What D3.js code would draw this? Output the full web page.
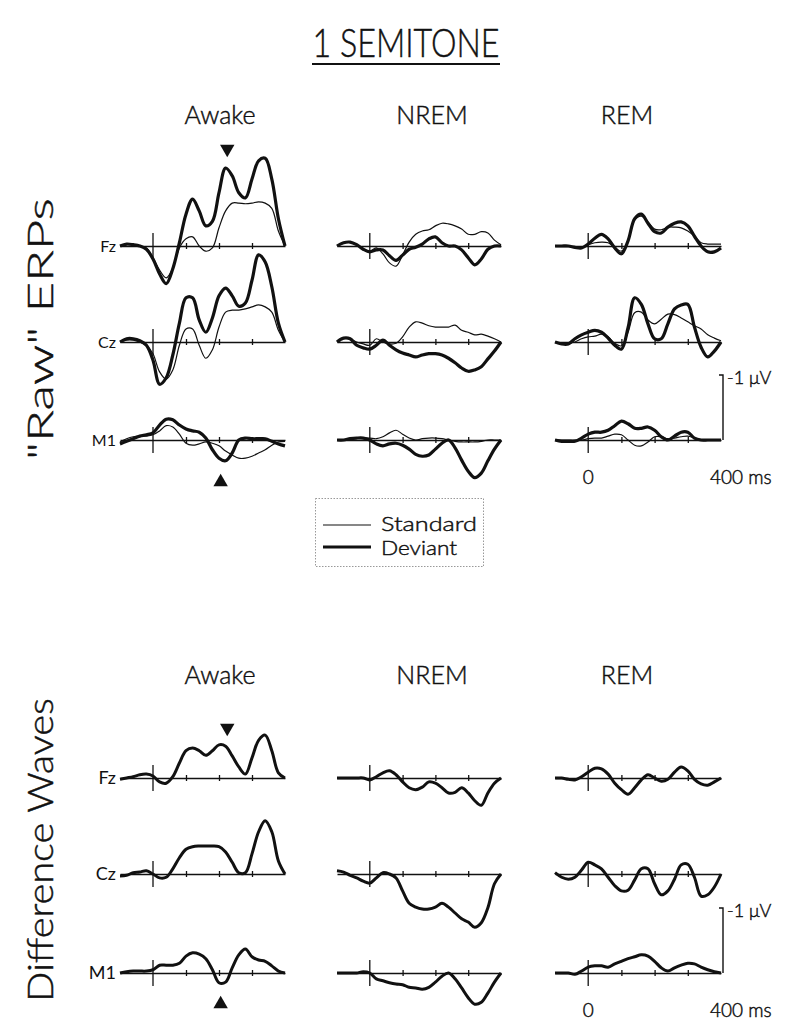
<!DOCTYPE html>
<html>
<head>
<meta charset="utf-8">
<script src="https://cdn.jsdelivr.net/npm/d3@7"></script>
<style>
  body { margin: 0; background: #fff; }
  svg { display: block; }
  text { font-family: Lato, "Open Sans", "DejaVu Sans", sans-serif; font-weight: 300; fill: #111; }
  text.book { stroke: #111; stroke-width: 0.45px; }
  text.site { font-weight: 400; }
</style>
</head>
<body>
<svg id="chart" width="789" height="1027"></svg>
<script>
// time axis (ms), one sample every 20 ms
const times = [-100, -80, -60, -40, -20, 0, 20, 40, 60, 80, 100, 120, 140, 160, 180,
  200, 220, 240, 260, 280, 300, 320, 340, 360, 380, 400];
const conditions = ['Awake', 'NREM', 'REM'];
const sites = ['Fz', 'Cz', 'M1'];
const xTicks = [100, 200, 300];

// "raw" ERPs, microvolts (negative is plotted up)
const awakeFzStd = [0, -0.02, -0.02, 0, 0.03, 0.18, 0.37, 0.49, 0.34, 0.03, -0.11, -0.14, 0, 0.08, 0.03, -0.28, -0.54, -0.66, -0.66, -0.65, -0.66, -0.68, -0.66, -0.58, -0.23, 0];
const awakeFzDev = [0, -0.03, -0.02, 0, 0.05, 0.2, 0.43, 0.58, 0.35, -0.05, -0.49, -0.72, -0.54, -0.31, -0.38, -0.82, -1.2, -1.08, -0.82, -0.74, -1.03, -1.31, -1.35, -1.03, -0.42, 0];
const awakeCzStd = [0, -0.03, -0.03, 0, 0.05, 0.18, 0.46, 0.57, 0.43, 0.05, -0.2, -0.2, 0.05, 0.25, 0.12, -0.23, -0.46, -0.49, -0.49, -0.51, -0.54, -0.57, -0.54, -0.46, -0.18, 0];
const awakeCzDev = [0, -0.05, -0.05, -0.02, 0.05, 0.28, 0.65, 0.55, 0.2, -0.29, -0.68, -0.68, -0.34, -0.15, -0.37, -0.71, -0.83, -0.71, -0.55, -0.6, -0.95, -1.34, -1.23, -0.85, -0.29, 0];
const awakeM1Std = [0.03, -0.02, -0.05, -0.06, -0.06, -0.08, -0.14, -0.22, -0.2, -0.09, 0.05, 0.08, 0.06, 0.03, 0.05, 0.09, 0.17, 0.23, 0.28, 0.28, 0.25, 0.2, 0.15, 0.08, 0.03, 0.02];
const awakeM1Dev = [0.06, 0.02, -0.02, -0.06, -0.08, -0.11, -0.23, -0.32, -0.31, -0.23, -0.17, -0.14, -0.12, -0.03, 0.15, 0.28, 0.32, 0.2, 0, -0.03, -0.02, -0.02, -0.02, 0.02, 0.06, 0.09];

const nremFzStd = [0, -0.05, -0.06, -0.02, 0.05, 0.08, 0.03, 0.12, 0.26, 0.31, 0.14, -0.06, -0.18, -0.23, -0.25, -0.31, -0.35, -0.34, -0.31, -0.26, -0.18, -0.18, -0.22, -0.2, -0.09, -0.02];
const nremFzDev = [0, -0.05, -0.06, -0.02, 0.05, 0.09, 0.06, 0.06, 0.15, 0.22, 0.14, 0.05, 0.02, -0.03, -0.11, -0.14, -0.05, 0, 0, 0.06, 0.18, 0.29, 0.2, 0.05, 0, 0];
const nremCzStd = [0, -0.06, -0.05, 0, 0.03, 0.05, -0.05, 0, 0.03, 0.02, -0.08, -0.23, -0.31, -0.29, -0.25, -0.23, -0.23, -0.23, -0.26, -0.18, -0.15, -0.11, -0.12, -0.09, -0.05, 0];
const nremCzDev = [0, -0.06, -0.05, 0.05, 0.09, 0.11, 0.05, -0.03, 0.05, 0.12, 0.17, 0.2, 0.23, 0.2, 0.18, 0.18, 0.2, 0.25, 0.32, 0.4, 0.45, 0.43, 0.38, 0.26, 0.14, 0];
const nremM1Std = [0, 0, -0.02, -0.03, -0.03, -0.03, -0.02, -0.05, -0.11, -0.15, -0.09, -0.03, 0, -0.02, -0.03, -0.03, -0.02, 0, 0.02, 0.03, 0.03, 0.03, 0.02, 0, 0, 0];
const nremM1Dev = [0, 0, -0.02, -0.03, -0.03, 0, 0.06, 0.09, 0.06, 0.05, 0.08, 0.14, 0.22, 0.25, 0.23, 0.14, 0.05, 0, 0.12, 0.31, 0.48, 0.58, 0.51, 0.32, 0.14, 0];

const remFzStd = [0, 0, 0, 0.02, 0.02, -0.02, -0.05, -0.06, -0.05, 0.02, 0.08, -0.08, -0.4, -0.46, -0.37, -0.26, -0.25, -0.29, -0.29, -0.28, -0.23, -0.15, -0.05, -0.03, -0.03, -0.03];
const remFzDev = [0, 0, 0, 0.02, 0.03, -0.03, -0.12, -0.18, -0.11, 0.03, 0.12, -0.08, -0.42, -0.49, -0.35, -0.22, -0.2, -0.29, -0.35, -0.37, -0.31, -0.15, 0, 0.09, 0.09, 0.03];
const remCzStd = [0, 0.03, 0.02, 0, -0.05, -0.08, -0.09, -0.12, -0.08, 0.02, 0.06, -0.15, -0.45, -0.46, -0.34, -0.28, -0.35, -0.43, -0.42, -0.37, -0.31, -0.25, -0.2, -0.11, -0.06, -0.02];
const remCzDev = [0, 0.03, 0.03, -0.05, -0.11, -0.15, -0.18, -0.15, -0.06, 0.05, 0.11, -0.22, -0.68, -0.58, -0.28, -0.05, -0.05, -0.28, -0.51, -0.57, -0.58, -0.23, 0.08, 0.23, 0.14, 0];
const remM1Std = [0, 0, 0, 0, 0, -0.02, -0.03, -0.03, -0.06, -0.09, -0.08, 0, 0.08, 0.09, 0.03, -0.05, -0.05, -0.02, -0.03, -0.05, -0.06, -0.03, 0, 0, 0, 0];
const remM1Dev = [0, 0.02, 0.02, 0.02, -0.03, -0.09, -0.12, -0.12, -0.15, -0.22, -0.29, -0.25, -0.18, -0.18, -0.2, -0.15, -0.05, 0, -0.06, -0.12, -0.12, -0.03, 0, 0, 0, 0];

// difference waves (deviant minus standard), microvolts
const awakeFzDiff = [0.02, 0, -0.02, -0.05, -0.06, -0.03, 0.06, 0.08, -0.02, -0.23, -0.42, -0.46, -0.42, -0.35, -0.42, -0.51, -0.49, -0.34, -0.17, -0.06, -0.31, -0.58, -0.66, -0.42, -0.08, 0];
const awakeCzDiff = [0.03, 0.02, -0.02, -0.03, -0.05, 0, 0.06, 0.05, -0.08, -0.25, -0.38, -0.42, -0.43, -0.43, -0.43, -0.42, -0.34, -0.18, -0.02, -0.02, -0.31, -0.65, -0.82, -0.65, -0.2, 0];
const awakeM1Diff = [0, -0.02, -0.03, -0.03, -0.03, -0.05, -0.12, -0.12, -0.12, -0.15, -0.26, -0.31, -0.29, -0.22, -0.05, 0.15, 0.14, -0.08, -0.28, -0.37, -0.25, -0.2, -0.18, -0.11, -0.03, 0];
const nremFzDiff = [0, 0, 0, 0, 0, 0.03, -0.02, -0.08, -0.11, -0.05, 0.06, 0.15, 0.18, 0.14, 0.06, 0.08, 0.15, 0.23, 0.22, 0.15, 0.23, 0.35, 0.42, 0.23, 0.08, 0];
const nremCzDiff = [-0.05, -0.03, 0.02, 0.06, 0.11, 0.14, 0.06, -0.02, 0, 0.06, 0.26, 0.45, 0.51, 0.54, 0.54, 0.51, 0.45, 0.51, 0.6, 0.69, 0.74, 0.82, 0.75, 0.52, 0.15, 0];
const nremM1Diff = [0, 0, 0, 0, -0.02, 0, 0.09, 0.12, 0.15, 0.17, 0.18, 0.22, 0.23, 0.25, 0.22, 0.14, 0.05, 0, 0.09, 0.23, 0.38, 0.48, 0.45, 0.31, 0.14, 0];
const remFzDiff = [0, 0, 0.02, 0.03, -0.02, -0.09, -0.15, -0.14, -0.06, 0.08, 0.18, 0.25, 0.15, 0.03, -0.05, 0, 0.05, 0.02, -0.09, -0.17, -0.11, 0.02, 0.09, 0.11, 0.06, 0];
const remCzDiff = [-0.02, 0.05, 0.08, 0.05, -0.06, -0.18, -0.14, -0.08, 0.05, 0.18, 0.26, 0.25, 0.09, -0.08, -0.08, 0.15, 0.32, 0.26, 0.08, -0.14, -0.15, 0.05, 0.34, 0.32, 0.2, 0];
const remM1Diff = [0, 0, 0, 0.02, -0.03, -0.09, -0.11, -0.11, -0.09, -0.14, -0.18, -0.22, -0.25, -0.28, -0.26, -0.18, -0.08, -0.03, -0.08, -0.12, -0.15, -0.14, -0.09, -0.05, -0.02, 0];

// latency (ms) of the arrowheads in the Awake column
const arrowFz = 225;
const arrowM1 = 205;

const rawTraces = {
  Awake: { Fz: [awakeFzStd, awakeFzDev], Cz: [awakeCzStd, awakeCzDev], M1: [awakeM1Std, awakeM1Dev] },
  NREM: { Fz: [nremFzStd, nremFzDev], Cz: [nremCzStd, nremCzDev], M1: [nremM1Std, nremM1Dev] },
  REM: { Fz: [remFzStd, remFzDev], Cz: [remCzStd, remCzDev], M1: [remM1Std, remM1Dev] },
};
const diffTraces = {
  Awake: { Fz: awakeFzDiff, Cz: awakeCzDiff, M1: awakeM1Diff },
  NREM: { Fz: nremFzDiff, Cz: nremCzDiff, M1: nremM1Diff },
  REM: { Fz: remFzDiff, Cz: remCzDiff, M1: remM1Diff },
};

// layout
const colRange = { Awake: [120, 285], NREM: [337, 501], REM: [555, 721] };
const headerX = { Awake: 220, NREM: 432, REM: 627 };
const PX_PER_UV = 65;
const sections = [
  { traces: 'raw', headerY: 124, base: { Fz: 246, Cz: 342, M1: 440 }, labelSize: 16,
    arrowDown: 149, arrowUp: 42 },
  { traces: 'diff', headerY: 684, base: { Fz: 778, Cz: 874, M1: 973 }, labelSize: 18,
    arrowDown: 728, arrowUp: 31 },
];

const svg = d3.select('#chart');

// stretch a text along its own direction so it spans `target` px (wide geometric face)
const widthScale = (sel, target) => target / sel.node().getComputedTextLength();

// title
const title = svg.append('text')
  .attr('class', 'book')
  .attr('text-anchor', 'middle')
  .style('font-size', '40px')
  .text('1 SEMITONE');
title.attr('transform', `translate(406,57) scale(${widthScale(title, 187)},1)`);
svg.append('line')
  .attr('x1', 312).attr('x2', 500)
  .attr('y1', 64).attr('y2', 64)
  .style('stroke', '#111').style('stroke-width', 2);

// rotated section labels
const sideLabel = (text, cy, len) => {
  const t = svg.append('text')
    .attr('class', 'book')
    .attr('text-anchor', 'middle')
    .style('font-size', '35px')
    .text(text);
  t.attr('transform', `translate(53,${cy}) rotate(-90) scale(${widthScale(t, len)},1)`);
};
sideLabel('"Raw" ERPs', 329, 262);
sideLabel('Difference Waves', 850, 304);

const makeScales = (cond, base) => {
  const x = d3.scaleLinear().domain([-100, 400]).range(colRange[cond]);
  const y = d3.scaleLinear().domain([0, -1]).range([base, base - PX_PER_UV]);
  return { x, y };
};

const drawAxis = (g, x, y) => {
  const axis = d3.axisBottom(x)
    .tickValues(xTicks)
    .tickSizeInner(3)
    .tickSizeOuter(0)
    .tickFormat('');
  const ag = g.append('g')
    .attr('transform', `translate(0,${y(0)})`)
    .call(axis);
  ag.select('.domain').style('stroke', '#111').style('stroke-width', 1.4);
  ag.selectAll('.tick line')
    .attr('y1', -3).attr('y2', 3)
    .style('stroke', '#111').style('stroke-width', 1.3);
  // stimulus onset
  g.append('line')
    .attr('x1', x(0)).attr('x2', x(0))
    .attr('y1', y(0) - 13).attr('y2', y(0) + 13)
    .style('stroke', '#111').style('stroke-width', 1.3);
};

const line = (x, y) => d3.line()
  .x((d, i) => x(times[i]))
  .y(d => y(d))
  .curve(d3.curveCatmullRom.alpha(0.5));

sections.forEach(sec => {
  conditions.forEach(cond => {
    svg.append('text')
      .attr('class', 'book')
      .attr('x', headerX[cond]).attr('y', sec.headerY)
      .attr('text-anchor', 'middle')
      .style('font-size', '25px')
      .text(cond);

    sites.forEach(site => {
      const base = sec.base[site];
      const { x, y } = makeScales(cond, base);
      const g = svg.append('g');
      drawAxis(g, x, y);

      if (sec.traces === 'raw') {
        const [std, dev] = rawTraces[cond][site];
        g.append('path').datum(std)
          .attr('d', line(x, y))
          .style('fill', 'none').style('stroke', '#111').style('stroke-width', 1.2);
        g.append('path').datum(dev)
          .attr('d', line(x, y))
          .style('fill', 'none').style('stroke', '#111').style('stroke-width', 3.2)
          .style('stroke-linejoin', 'round');
      } else {
        g.append('path').datum(diffTraces[cond][site])
          .attr('d', line(x, y))
          .style('fill', 'none').style('stroke', '#111').style('stroke-width', 3)
          .style('stroke-linejoin', 'round');
      }

      if (cond === 'Awake') {
        svg.append('text')
          .attr('class', 'site')
          .attr('x', 116).attr('y', base)
          .attr('dy', '0.35em')
          .attr('text-anchor', 'end')
          .style('font-size', sec.labelSize + 'px')
          .text(site);
      }

      // scale bar and time labels beside the REM M1 panel
      if (cond === 'REM' && site === 'M1') {
        const bx = x(400) + 2;
        g.append('path')
          .attr('d', `M${bx - 4},${y(-1)}H${bx}V${y(0)}`)
          .style('fill', 'none').style('stroke', '#111').style('stroke-width', 1.4);
        g.append('text')
          .attr('class', 'book')
          .attr('x', bx + 4).attr('y', y(-1) + 9)
          .style('font-size', '18px')
          .text('-1 \u03BCV');
        g.append('text')
          .attr('class', 'book')
          .attr('x', x(0)).attr('y', base + 44)
          .attr('text-anchor', 'middle')
          .style('font-size', '19px')
          .text('0');
        g.append('text')
          .attr('class', 'book')
          .attr('x', x(400) - 11).attr('y', base + 44)
          .style('font-size', '19px')
          .text('400 ms');
      }
    });

    // arrowheads marking the mismatch peak
    if (cond === 'Awake') {
      const { x } = makeScales(cond, sec.base.Fz);
      const tri = d3.symbol().type(d3.symbolTriangle).size(90);
      svg.append('path')
        .attr('d', tri())
        .attr('transform', `translate(${x(arrowFz)},${sec.arrowDown}) rotate(180)`)
        .style('fill', '#111');
      svg.append('path')
        .attr('d', tri())
        .attr('transform', `translate(${x(arrowM1)},${sec.base.M1 + sec.arrowUp})`)
        .style('fill', '#111');
    }
  });
});

// legend
const legend = svg.append('g');
legend.append('rect')
  .attr('x', 315.5).attr('y', 498.5)
  .attr('width', 168).attr('height', 68)
  .style('fill', 'none').style('stroke', '#999').style('stroke-width', 1)
  .style('stroke-dasharray', '1.5,1.5');
[['Standard', 1.2, 525, 531, 96], ['Deviant', 3, 547, 555, 76]].forEach(([label, w, ly, ty, len]) => {
  legend.append('line')
    .attr('x1', 323).attr('x2', 371)
    .attr('y1', ly).attr('y2', ly)
    .style('stroke', '#111').style('stroke-width', w);
  const t = legend.append('text')
    .attr('class', 'book')
    .style('font-size', '20px')
    .text(label);
  t.attr('transform', `translate(381,${ty}) scale(${widthScale(t, len)},1)`);
});
</script>
</body>
</html>
